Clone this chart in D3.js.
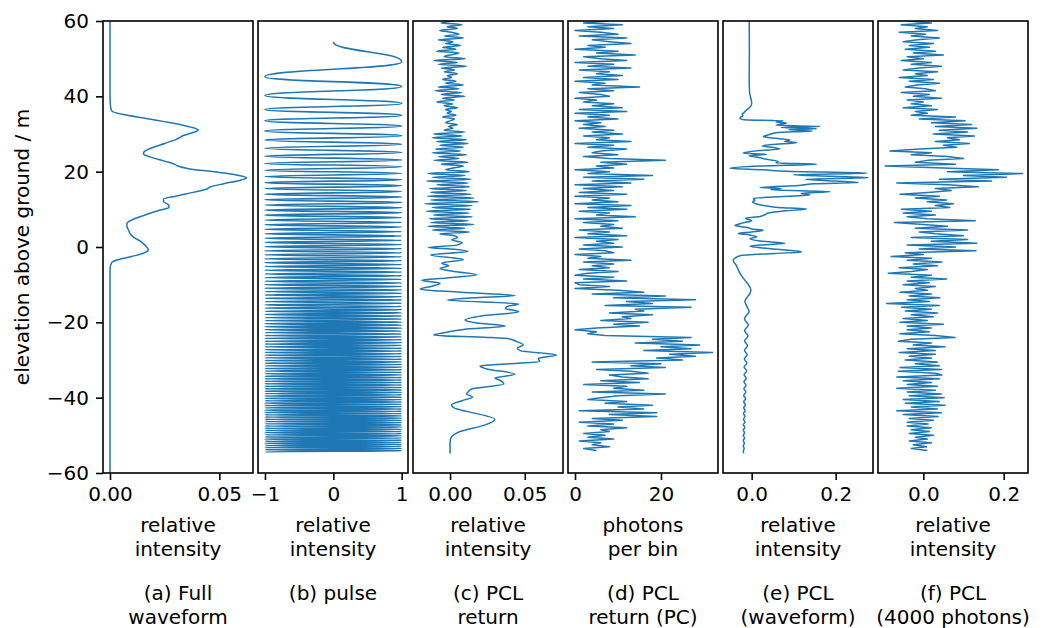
<!DOCTYPE html>
<html>
<head>
<meta charset="utf-8">
<script src="https://cdn.jsdelivr.net/npm/d3@7"></script>
<style>
  body { margin: 0; background: #fff; }
  svg text { font-family: "DejaVu Sans", sans-serif; font-size: 20px; fill: #000; }
</style>
</head>
<body>
<svg id="chart" width="1048" height="628"></svg>
<script>
// ---------------- data ----------------
const elevTicks = [-60, -40, -20, 0, 20, 40, 60];

// (a) full waveform: [elevation m, relative intensity]
const fullWaveform = [
  [60, 0], [40, 0], [37, 0.0003], [36, 0.001], [35.3, 0.005], [34, 0.018], [32.5, 0.032],
  [31.5, 0.039], [31.06, 0.0404], [30.4, 0.038], [29.6, 0.0335], [29.0, 0.0318], [28.5, 0.030],
  [27.5, 0.025], [26.3, 0.019], [25.2, 0.0155], [24.7, 0.0153], [24.0, 0.018], [22.8, 0.025],
  [22.0, 0.0295], [21.5, 0.031], [20.8, 0.036], [19.8, 0.050], [19.0, 0.059], [18.4, 0.0625],
  [17.8, 0.060], [16.8, 0.052], [16.0, 0.046], [15.4, 0.0443], [14.5, 0.038], [13.5, 0.030],
  [12.7, 0.0245], [12.0, 0.0245], [11.2, 0.0268], [10.5, 0.027], [9.8, 0.023], [8.5, 0.016],
  [7.2, 0.010], [6.3, 0.0078], [5.5, 0.0077], [4.5, 0.0085], [3.3, 0.0095], [2.5, 0.011],
  [1.5, 0.014], [0.5, 0.016], [-0.8, 0.0175], [-1.5, 0.016], [-2.5, 0.010], [-3.3, 0.004],
  [-4.0, 0.001], [-5, 0.0002], [-6, 0], [-60, 0]
];

// (b) chirped pulse: start point and successive turning points [elevation m, amplitude]
const pulseTurns = [
  [54.5, 0],
  [49.2, 1], [45.2, -1], [42.6, 1], [40.2, -1], [38.1, 1], [36.5, -1], [35.0, 1], [33.5, -1],
  [32.1, 1], [30.8, -1], [29.55, 1], [28.4, -1], [27.26, 1], [26.2, -1], [25.1, 1], [24.1, -1],
  [23.1, 1], [22.2, -1], [21.3, 1], [20.4, -1], [19.56, 1], [18.71, -1], [17.88, 1], [17.08, -1],
  [16.28, 1], [15.51, -1], [14.75, 1], [14.0, -1], [13.27, 1], [12.54, -1], [11.84, 1], [11.14, -1],
  [10.45, 1], [9.78, -1], [9.11, 1], [8.46, -1], [7.81, 1], [7.17, -1], [6.54, 1], [5.92, -1],
  [5.31, 1], [4.7, -1], [4.1, 1], [3.51, -1], [2.93, 1], [2.35, -1], [1.77, 1], [1.21, -1],
  [0.65, 1], [0.09, -1], [-0.46, 1], [-1.0, -1], [-1.54, 1], [-2.07, -1], [-2.6, 1], [-3.12, -1],
  [-3.64, 1], [-4.15, -1], [-4.66, 1], [-5.17, -1], [-5.67, 1], [-6.17, -1], [-6.66, 1], [-7.15, -1],
  [-7.63, 1], [-8.11, -1], [-8.59, 1], [-9.07, -1], [-9.54, 1], [-10.0, -1], [-10.47, 1], [-10.93, -1],
  [-11.39, 1], [-11.84, -1], [-12.29, 1], [-12.74, -1], [-13.19, 1], [-13.63, -1], [-14.07, 1], [-14.5, -1],
  [-14.94, 1], [-15.37, -1], [-15.8, 1], [-16.22, -1], [-16.65, 1], [-17.07, -1], [-17.49, 1], [-17.9, -1],
  [-18.32, 1], [-18.73, -1], [-19.14, 1], [-19.54, -1], [-19.95, 1], [-20.35, -1], [-20.75, 1], [-21.15, -1],
  [-21.54, 1], [-21.94, -1], [-22.33, 1], [-22.72, -1], [-23.11, 1], [-23.49, -1], [-23.87, 1], [-24.25, -1],
  [-24.63, 1], [-25.01, -1], [-25.39, 1], [-25.76, -1], [-26.13, 1], [-26.5, -1], [-26.87, 1], [-27.25, -1],
  [-27.62, 1], [-27.98, -1], [-28.35, 1], [-28.71, -1], [-29.07, 1], [-29.43, -1], [-29.79, 1], [-30.14, -1],
  [-30.5, 1], [-30.85, -1], [-31.2, 1], [-31.55, -1], [-31.9, 1], [-32.25, -1], [-32.59, 1], [-32.94, -1],
  [-33.28, 1], [-33.62, -1], [-33.96, 1], [-34.3, -1], [-34.64, 1], [-34.98, -1], [-35.31, 1], [-35.65, -1],
  [-35.98, 1], [-36.31, -1], [-36.64, 1], [-36.97, -1], [-37.3, 1], [-37.63, -1], [-37.95, 1], [-38.28, -1],
  [-38.6, 1], [-38.92, -1], [-39.24, 1], [-39.56, -1], [-39.88, 1], [-40.2, -1], [-40.52, 1], [-40.83, -1],
  [-41.15, 1], [-41.46, -1], [-41.77, 1], [-42.08, -1], [-42.39, 1], [-42.7, -1], [-43.01, 1], [-43.31, -1],
  [-43.62, 1], [-43.93, -1], [-44.23, 1], [-44.54, -1], [-44.84, 1], [-45.14, -1], [-45.44, 1], [-45.74, -1],
  [-46.04, 1], [-46.34, -1], [-46.63, 1], [-46.95, -1], [-47.24, 1], [-47.54, -1], [-47.83, 1], [-48.12, -1],
  [-48.42, 1], [-48.71, -1], [-49.0, 1], [-49.29, -1], [-49.58, 1], [-49.87, -1], [-50.15, 1], [-50.44, -1],
  [-50.73, 1], [-51.01, -1], [-51.3, 1], [-51.58, -1], [-51.86, 1], [-52.14, -1], [-52.42, 1], [-52.7, -1],
  [-52.98, 1], [-53.26, -1], [-53.54, 1], [-53.82, -1], [-54.09, 1], [-54.37, -1]
];

// (c) PCL return: noisy upper part in 0.5 m bins from 60 m down (units of 1e-3)
const cBinTop = 60, cBinStep = 0.5;
const pclReturnUpper = [
  3, -6, 8, -2, 5, -7, 1, 6, -4, 9, -8, 2, -3, 7, -5, 4, -9, 6, 0, -4,
  10, -11, 5, -8, 11, -6,
  3, -4, 5, -2, 1, -5, 4, -3,
  9, -8, 6, -10, 8, -6, 10, -5, 3, -9,
  2, -4, 5, -3, 1, -2, 4, -5, 3, 0, -3, 5, -1, 2, -4,
  10, -11, 8, -12, 11, -9, 12, -7, 9, -10, 7, -12, 11, -8, 6, -11, 12, -6, 9,
  2, -3,
  13, -15, 10, -12, 14, -16, 12, -9, 13, -14, 11, -13,
  14, -15, 16, -13, 19, -17, 15, -12, 14, -16, 13, -11, 15, -14, 12, -13, 16, -15, 10, -12,
  13, -7, 3
];
// (c) lower part: [elevation m, intensity 1e-3]
const pclReturnLower = [
  [2.5, 5], [1.9, 1], [1.2, 8], [0.5, 4.5], [-0.1, -14.5], [-0.6, 3], [-1.2, 12], [-2.1, -13],
  [-3.3, 9], [-4.3, -5.6], [-5, -1], [-5.7, -6.7], [-6.5, 3], [-7.4, 18], [-8.2, -2], [-8.8, -19],
  [-9.6, -6.7], [-10.4, -12], [-11.2, -20], [-12.0, 7], [-12.9, 43.5], [-13.5, 15], [-14.1, -2],
  [-15.1, 46], [-15.8, 38], [-16.3, 37], [-17.2, 46], [-18.3, 21], [-19.4, 10], [-20.2, 18],
  [-21, 37], [-21.9, 9], [-22.7, -3], [-23.4, -11], [-24.0, 25], [-24.4, 40], [-25.0, 44],
  [-26, 49], [-26.8, 45], [-27.5, 47], [-28.7, 71.4], [-29.6, 59], [-30.4, 60], [-31.0, 40],
  [-31.6, 20], [-32.3, 24], [-33.8, 43.5], [-34.8, 30], [-35.3, 33], [-36.4, 36], [-37.7, 14.5],
  [-38.5, 12], [-39.0, 11], [-39.8, 15], [-40.8, 8], [-41.9, 1], [-42.8, 3], [-43.7, 12],
  [-45.8, 30], [-47.3, 23], [-49, 6.7], [-50.8, 0.5], [-52, 0], [-54.8, 0]
];

// (d) photon counts per 0.5 m bin from 60 m down
const dBinTop = 60, dBinStep = 0.5;
const photonCounts = [
  8, 2, 11, 3, 9, 0, 6, 10, 1, 12, 4, 8, 13, 3, 7, 0, 10, 5, 14, 2,
  6, 12, 0, 9, 3, 13, 1, 8, 5, 11,
  2, 10, 0, 7, 4, 15, 3,
  9, 1, 6, 8, 0, 5, 2, 9, 4, 11, 1,
  12, 0, 8, 3, 10, 0, 6, 2, 7, 1, 9, 4,
  11, 2, 8, 5, 13, 0, 9, 3, 12, 6,
  4, 10, 2, 8, 21, 6,
  12, 5, 9, 0, 8, 3, 18, 2, 16, 4,
  13, 0, 11, 2, 9, 1, 12, 0, 8, 4,
  10, 0, 13, 3, 12, 1, 8, 5,
  14, 0, 10, 2, 9, 6, 11, 1,
  8, 3, 12, 0, 10, 5, 9, 2,
  11, 1, 7, 9, 0, 6, 3, 13, 2, 9,
  4, 8, 1, 10, 3, 0, 9, 2, 12, 0, 1, 8, 0,
  10, 16, 4, 21, 9,
  28, 12, 18, 7, 27, 14,
  16, 8, 18, 11, 13, 6, 17, 9, 15, 5,
  0, 5, 3, 7, 27,
  18, 25, 14, 29, 20, 27, 16, 32, 22, 28, 19, 25,
  4, 20, 13, 21, 5, 13, 17, 8, 11,
  17, 6, 15, 2, 12, 9, 16, 4, 21, 10,
  6, 3, 12, 7, 18, 10, 16, 1, 19, 8,
  19, 4, 11, 1, 9, 3, 12, 6, 8, 2,
  7, 3, 9, 1, 6, 4, 8, 2, 5
];

// (e) PCL waveform: [elevation m, intensity 1e-3]
const pclWaveform = [
  [60, -6], [52, -5.5], [45, -6], [41, -5], [39, -1], [38.3, 0], [37.6, -1], [36.4, -12], [35.6, -19],
  [35.2, -23], [34.8, -21], [34.4, -27], [34.1, -28], [33.8, -18], [33.5, 75], [33.2, 58], [32.9, 83],
  [32.6, 68], [32.3, 58], [32.0, 163], [31.7, 70], [31.4, 155], [31.1, 88], [30.8, 145], [30.4, 62],
  [29.8, 40], [29.3, 28], [28.8, 62], [28.4, 91], [28.0, 78], [27.7, 107], [27.2, 48], [26.8, 25],
  [26.4, 52], [26.0, 67], [25.6, 18], [25.2, -8], [24.9, -20], [24.6, 35], [24.2, -6], [23.8, 14],
  [23.2, 40], [22.7, 63], [22.3, 58], [22.0, 155], [21.5, 22], [20.9, -52], [20.5, 28], [20.1, 83],
  [19.6, 274], [19.2, 100], [18.8, 190], [18.4, 278], [18.0, 128], [17.5, 200], [17.1, 254], [16.8, 150],
  [16.4, 118], [15.8, 20], [15.5, 70], [15.2, 45], [14.7, 187], [14.3, 118], [13.8, 139], [13.3, 50],
  [12.9, 4], [12.4, 8], [12.0, 2], [11.5, 10], [11.0, 30], [10.5, 62], [10.1, 131], [9.6, 80], [9.0, 40],
  [8.5, 30], [8.1, 20], [7.6, -15], [7.0, 0], [6.4, -20], [5.7, -40], [5.2, -10], [4.8, 0], [4.5, 28],
  [4.0, 0], [3.6, -32], [3.2, -5], [2.7, 12], [2.2, -4], [1.6, 20], [1.0, 79], [0.6, 30], [0.2, -4],
  [-0.4, 40], [-1.0, 100], [-1.3, 119], [-1.7, 55], [-2.3, -28], [-3.0, -40], [-3.5, -44], [-5, -36],
  [-7, -28], [-9, -15], [-10.5, -5], [-11.4, -2], [-12.3, -4], [-13.2, -10], [-14.5, -16], [-15.9, -11],
  [-17.2, -6], [-18.2, -13], [-19.1, -17], [-20.7, -8], [-22.2, -17], [-23.6, -9], [-24.95, -17],
  [-26.2, -10], [-27.4, -17], [-28.6, -11], [-29.7, -17.5], [-30.8, -11.5], [-31.9, -18], [-32.9, -12],
  [-33.9, -18], [-34.9, -13], [-35.8, -18.5], [-36.7, -13.5], [-37.6, -18.5], [-38.5, -14], [-39.4, -19],
  [-40.3, -14.5], [-41.1, -19], [-41.9, -15], [-42.7, -19], [-43.4, -15.5], [-44.2, -19.5], [-45.0, -16],
  [-45.75, -19.5], [-46.5, -16], [-47.2, -20], [-47.9, -16.5], [-48.6, -20], [-49.3, -17], [-50.0, -20],
  [-50.7, -17], [-51.4, -20], [-52.1, -17.5], [-52.8, -20], [-53.5, -18], [-54.2, -20], [-54.8, -19]
];

// (f) PCL from 4000 photons, 0.5 m bins from 60 m down (units of 1e-3)
const fBinTop = 60, fBinStep = 0.5;
const pcl4000 = [
  -40, 20, -55, 10, -20, 35, -60, 5, -30, 40, -15, -50, 25, -35, 15, -45, 30, -25, 50, -40,
  0, -55, 20, -30, 45, -10, -50, 35, -20, 10, -60, 25, -35, 40, -15, -45, 5, 30, -55, 15,
  -25, 45, -40, 0, -30, 20, -50, 35, -20, 10,
  -30, 80, -10, 104, 20, 120, 30, 133,
  40, 110, 25, 127, 60, 90, 30, 115, 50, 83,
  -10, -83, 20, -30,
  60, 100, 10, -20, 80, -95,
  50, 187, 60, 247, 100, 207, 40, 170,
  -66, 60, 137, 30, 70,
  12, -58, 40, -20, 58, 10, 75,
  30, 66, -54, 20, -50, 30, -40, 10,
  129, -72, 0, 60, -20, 110, -10,
  30, 100, -30, 110, 20, 133, -40,
  80, -10, 131, -45, 0, -80,
  20, -40, 46, -25, 35, -60, 10, -30,
  -87, 20, -30, 58, -40, 15,
  -50, 30, -20, 10, -58, 20, -35,
  41, -40, 15, -91, 40, -54, 20,
  -45, 35, -30, 25, -50, 10, -58, 50, -40, 20,
  -40, 15, -58, 30, 79, -30,
  -62, 20, -25, 54, -40, 30,
  -60, 30, -35, 20, -45, 35, -20, 40, -58,
  45, -62, 30, 46, -66,
  40, -50, 20, -40, 35, -66,
  30, -40, 45, -35, 52, -50,
  40, -45, 54, -30, 35, -66,
  45, -50, 37, -35, 25, -40,
  12, -40, 20, -30, 15, -35, 25, -20,
  10, -35, 20, -25, 8, -30, 10
];

// ---------------- profiles as [elevation, value] ----------------
const binned = (vals, start, step, unit) => vals.map((v, i) => [start - i * step, v * unit]);

const profiles = {
  a: fullWaveform,
  b: pulseTurns,
  c: binned(pclReturnUpper, cBinTop, cBinStep, 1e-3).concat(pclReturnLower.map(d => [d[0], d[1] * 1e-3])),
  d: binned(photonCounts, dBinTop, dBinStep, 1),
  e: pclWaveform.map(d => [d[0], d[1] * 1e-3]),
  f: binned(pcl4000, fBinTop, fBinStep, 1e-3)
};

// ---------------- layout ----------------
const svg = d3.select("#chart");
const plotTop = 21, plotBottom = 473, panelW = 150;
const lineColor = "#1f77b4";

const y = d3.scaleLinear().domain([-60, 60]).range([plotBottom, plotTop]);

const panels = [
  { key: "a", left: 103, domain: [-0.0032, 0.0654], ticks: [0, 0.05], fmt: d3.format(".2f"),
    xlabel: ["relative", "intensity"], title: ["(a) Full", "waveform"], curve: d3.curveMonotoneY, sw: 1.5 },
  { key: "b", left: 258, domain: [-1.102, 1.093], ticks: [-1, 0, 1], fmt: d3.format("d"),
    xlabel: ["relative", "intensity"], title: ["(b) pulse"], curve: d3.curveBumpY, sw: 1.6 },
  { key: "c", left: 413, domain: [-0.0248, 0.0756], ticks: [0, 0.05], fmt: d3.format(".2f"),
    xlabel: ["relative", "intensity"], title: ["(c) PCL", "return"], curve: d3.curveMonotoneY, sw: 1.5 },
  { key: "d", left: 568, domain: [-1.63, 33.26], ticks: [0, 20], fmt: d3.format("d"),
    xlabel: ["photons", "per bin"], title: ["(d) PCL", "return (PC)"], curve: d3.curveLinear, sw: 1.5 },
  { key: "e", left: 723, domain: [-0.0683, 0.2888], ticks: [0, 0.2], fmt: d3.format(".1f"),
    xlabel: ["relative", "intensity"], title: ["(e) PCL", "(waveform)"], curve: d3.curveMonotoneY, sw: 1.5 },
  { key: "f", left: 878, domain: [-0.1127, 0.2604], ticks: [0, 0.2], fmt: d3.format(".1f"),
    xlabel: ["relative", "intensity"], title: ["(f) PCL", "(4000 photons)"], curve: d3.curveLinear, sw: 1.5 }
];

const defs = svg.append("defs");

panels.forEach(p => {
  const x = d3.scaleLinear().domain(p.domain).range([p.left, p.left + panelW]);
  const g = svg.append("g").attr("class", "panel-" + p.key);

  defs.append("clipPath").attr("id", "clip-" + p.key)
    .append("rect").attr("x", p.left).attr("y", plotTop).attr("width", panelW).attr("height", plotBottom - plotTop);

  const line = d3.line().x(d => x(d[1])).y(d => y(d[0])).curve(p.curve);
  g.append("path")
    .datum(profiles[p.key])
    .attr("clip-path", "url(#clip-" + p.key + ")")
    .attr("fill", "none")
    .attr("stroke", lineColor)
    .attr("stroke-width", p.sw)
    .attr("stroke-linejoin", "round")
    .attr("d", line);

  // frame
  g.append("rect")
    .attr("x", p.left).attr("y", plotTop).attr("width", panelW).attr("height", plotBottom - plotTop)
    .attr("fill", "none").attr("stroke", "#000").attr("stroke-width", 1.6);

  // x axis
  const ax = g.append("g").attr("transform", `translate(0,${plotBottom})`)
    .call(d3.axisBottom(x).tickValues(p.ticks).tickFormat(p.fmt).tickSize(7).tickPadding(7));
  ax.select(".domain").remove();
  ax.selectAll("line").attr("stroke", "#000").attr("stroke-width", 1.6);
  ax.selectAll("text").attr("font-family", null).attr("font-size", null);

  const cx = p.left + panelW / 2;
  p.xlabel.forEach((t, i) => {
    g.append("text").attr("x", cx).attr("y", 532 + i * 24).attr("text-anchor", "middle").text(t);
  });
  p.title.forEach((t, i) => {
    g.append("text").attr("x", cx).attr("y", 600 + i * 24).attr("text-anchor", "middle").text(t);
  });

  if (p.key === "a") {
    const ay = g.append("g").attr("transform", `translate(${p.left},0)`)
      .call(d3.axisLeft(y).tickValues(elevTicks).tickFormat(d3.format("d")).tickSize(7).tickPadding(7));
    ay.select(".domain").remove();
    ay.selectAll("line").attr("stroke", "#000").attr("stroke-width", 1.6);
    ay.selectAll("text").attr("font-family", null).attr("font-size", null);
  }
});

svg.append("text")
  .attr("transform", `translate(22,${(plotTop + plotBottom) / 2}) rotate(-90)`)
  .attr("text-anchor", "middle")
  .attr("dominant-baseline", "central")
  .text("elevation above ground / m");
</script>
</body>
</html>
